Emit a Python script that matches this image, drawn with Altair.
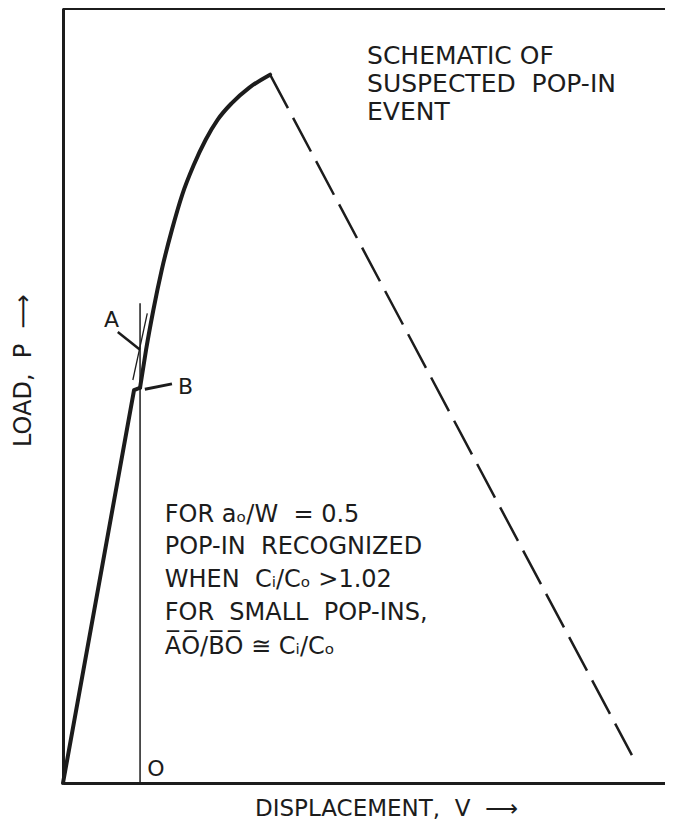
import altair as alt
import pandas as pd

NB = "\u00a0"

# ---- data (displacement V, load P in arbitrary units) ----
# elastic loading up to the pop-in (B), then the small pop-in jog
v_elastic = [0.00, 1.18, 1.28]
p_elastic = [0.00, 5.07, 5.10]
# continued loading after pop-in up to maximum load
v_load = [1.28, 1.38, 1.50, 1.64, 1.81, 1.98, 2.17, 2.37, 2.57, 2.80, 3.09, 3.44]
p_load = [5.10, 5.59, 6.10, 6.62, 7.14, 7.59, 7.97, 8.30, 8.56, 8.77, 8.97, 9.14]

v_unload = [3.44, 9.45]
p_unload = [9.14, 0.36]

v_oline = [1.28, 1.28]
p_oline = [0.00, 6.19]

v_secant = [1.16, 1.40]
p_secant = [5.20, 6.06]

v_leadA = [0.91, 1.28]
p_leadA = [5.82, 5.59]
v_leadB = [1.36, 1.81]
p_leadB = [5.08, 5.15]

point_labels = ["A", "B", "O"]
point_v = [0.68, 1.91, 1.40]
point_p = [5.97, 5.11, 0.18]

title_lines = ["SCHEMATIC OF", "SUSPECTED" + NB + " POP-IN", "EVENT"]
title_v = [5.05, 5.05, 5.05]
title_p = [9.38, 9.02, 8.66]

note_lines = ["FOR aₒ/W" + NB + " = 0.5",
              "POP-IN" + NB + " RECOGNIZED",
              "WHEN" + NB + " Cᵢ/Cₒ >1.02",
              "FOR" + NB + " SMALL" + NB + " POP-INS,",
              "A̅O̅/B̅O̅ ≅ Cᵢ/Cₒ"]
note_v = [1.69] * 5
note_p = [3.46, 3.04, 2.62, 2.19, 1.76]

INK = "#1c1c1c"
FONT = "DejaVu Sans"

xs = alt.Scale(domain=[0, 10], nice=False, zero=False)
ys = alt.Scale(domain=[0, 10], nice=False, zero=False)

xaxis = alt.Axis(domain=True, domainWidth=3, domainColor=INK, ticks=False, labels=False,
                 grid=False, title="DISPLACEMENT," + NB + " V" + NB + " ⟶", titleFont=FONT,
                 titleFontSize=23, titleFontWeight="normal", titleColor=INK, titleX=323,
                 titleY=25, titleAlign="center", titleBaseline="middle")
yaxis = alt.Axis(domain=True, domainWidth=3, domainColor=INK, ticks=False, labels=False,
                 grid=False, title="LOAD," + NB + " P" + NB + " ⟶", titleFont=FONT,
                 titleFontSize=24, titleFontWeight="normal", titleColor=INK, titleAngle=270,
                 titleX=-40, titleY=362, titleAlign="center", titleBaseline="middle")

X = alt.X("v:Q", scale=xs, axis=xaxis)
Y = alt.Y("p:Q", scale=ys, axis=yaxis)


def seg(v, p):
    return pd.DataFrame({"v": v, "p": p, "i": list(range(len(v)))})


elastic = alt.Chart(seg(v_elastic, p_elastic)).mark_line(
    color=INK, strokeWidth=4, strokeCap="round", strokeJoin="round").encode(x=X, y=Y, order="i:Q")
load = alt.Chart(seg(v_load, p_load)).mark_line(
    color=INK, strokeWidth=4, strokeCap="round", interpolate="monotone").encode(x=X, y=Y, order="i:Q")
unload = alt.Chart(seg(v_unload, p_unload)).mark_line(
    color=INK, strokeWidth=2.5, strokeDash=[38, 11]).encode(x=X, y=Y, order="i:Q")
oline = alt.Chart(seg(v_oline, p_oline)).mark_line(color=INK, strokeWidth=1.5).encode(x=X, y=Y, order="i:Q")
secant = alt.Chart(seg(v_secant, p_secant)).mark_line(color=INK, strokeWidth=1.3).encode(x=X, y=Y, order="i:Q")
leadA = alt.Chart(seg(v_leadA, p_leadA)).mark_line(color=INK, strokeWidth=2.5).encode(x=X, y=Y, order="i:Q")
leadB = alt.Chart(seg(v_leadB, p_leadB)).mark_line(color=INK, strokeWidth=3).encode(x=X, y=Y, order="i:Q")

toprule = alt.Chart(pd.DataFrame({"v": [0]})).mark_rule(color=INK, strokeWidth=2).encode(
    x=alt.value(0), x2=alt.value(602), y=alt.value(1))

pts = alt.Chart(pd.DataFrame({"v": point_v, "p": point_p, "t": point_labels})).mark_text(
    font=FONT, fontSize=22, color=INK, align="left", baseline="middle").encode(x=X, y=Y, text="t:N")

titles = alt.Chart(pd.DataFrame({"v": title_v, "p": title_p, "t": title_lines})).mark_text(
    font=FONT, fontSize=25, color=INK, align="left", baseline="middle").encode(x=X, y=Y, text="t:N")

notes = alt.Chart(pd.DataFrame({"v": note_v, "p": note_p, "t": note_lines})).mark_text(
    font=FONT, fontSize=24, color=INK, align="left", baseline="middle").encode(x=X, y=Y, text="t:N")

chart = alt.layer(elastic, load, unload, oline, secant, leadA, leadB, toprule, pts, titles, notes).properties(
    width=602, height=775,
    padding={"left": 55, "top": 0, "right": 0, "bottom": 38},
    autosize=alt.AutoSizeParams(type="none"),
    background="white",
).configure_view(stroke=None)

chart.save("out.html", embed_options={"renderer": "svg", "actions": False})
